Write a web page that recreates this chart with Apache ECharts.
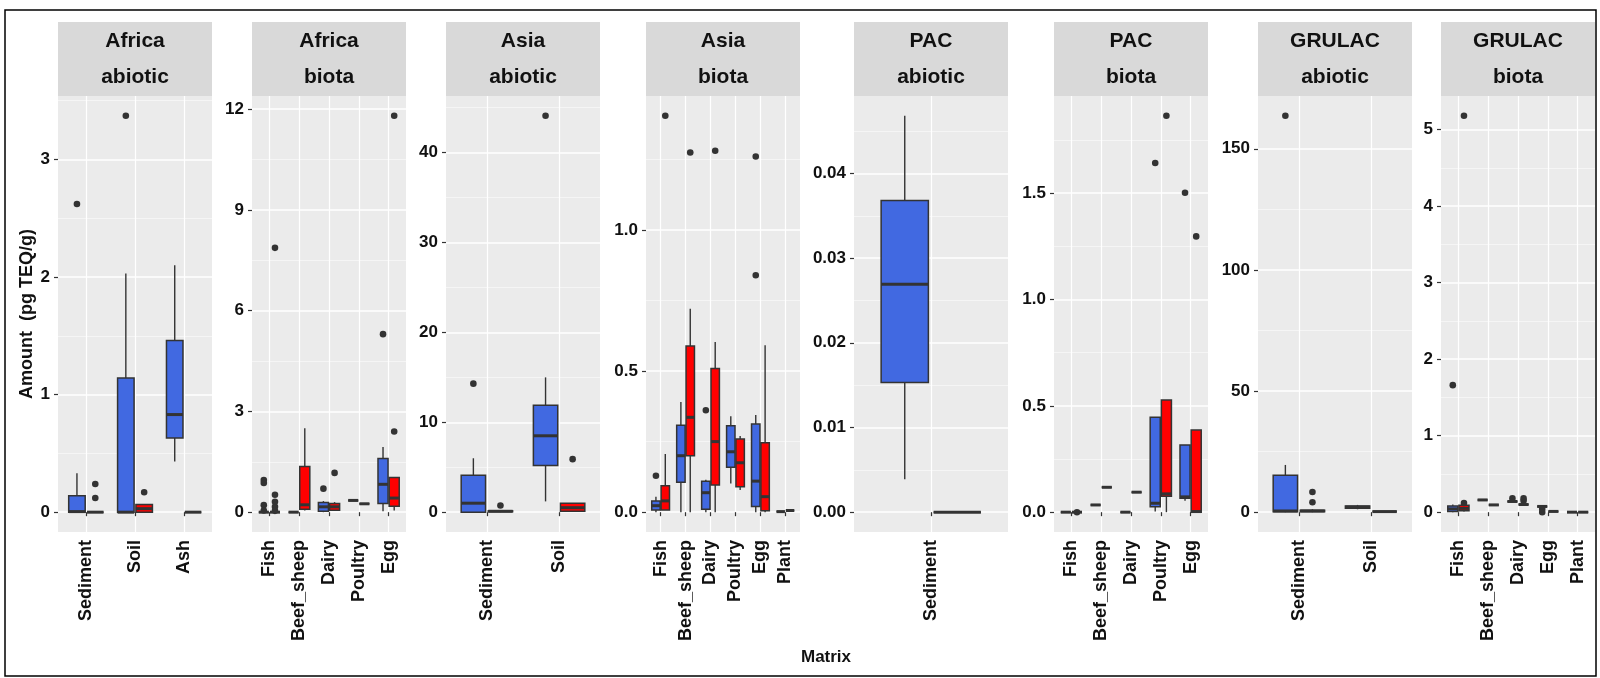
<!DOCTYPE html>
<html>
<head>
<meta charset="utf-8">
<script src="https://cdn.jsdelivr.net/npm/echarts@6/dist/echarts.min.js"></script>
<style>
html,body{margin:0;padding:0;background:#fff;}
#chart{width:1600px;height:678px;}
</style>
</head>
<body>
<div id="chart"></div>
<script>
// ---------- DATA (box stats: [lower whisker, Q1, median, Q3, upper whisker]) ----------
// Africa / abiotic
const afAbCats = ['Sediment', 'Soil', 'Ash'];
const afAbBlue = [[0, 0, 0.005, 0.14, 0.33], [0, 0, 0, 1.14, 2.03], [0.43, 0.63, 0.83, 1.46, 2.10]];
const afAbRed = [[0, 0, 0, 0, 0], [0, 0, 0.03, 0.065, 0.065], [0, 0, 0, 0, 0]];
const afAbBlueOut = [['Sediment', 2.62], ['Soil', 3.37]];
const afAbRedOut = [['Sediment', 0.12], ['Sediment', 0.24], ['Soil', 0.17]];
const afAbTicks = ['0', '1', '2', '3'];

// Africa / biota
const afBiCats = ['Fish', 'Beef_sheep', 'Dairy', 'Poultry', 'Egg'];
const afBiBlue = [[0, 0, 0, 0, 0], [0, 0, 0, 0, 0], [0, 0.03, 0.16, 0.29, 0.33], [0.35, 0.35, 0.35, 0.35, 0.35], [0.03, 0.26, 0.83, 1.6, 1.94]];
const afBiRed = [[0, 0, 0, 0, 0], [0.05, 0.09, 0.22, 1.36, 2.5], [0.04, 0.06, 0.16, 0.26, 0.3], [0.25, 0.25, 0.25, 0.25, 0.25], [0.05, 0.18, 0.42, 1.03, 1.03]];
const afBiBlueOut = [['Fish', 0.96], ['Fish', 0.87], ['Fish', 0.21], ['Fish', 0.05], ['Dairy', 0.70], ['Egg', 5.3]];
const afBiRedOut = [['Fish', 7.87], ['Fish', 0.52], ['Fish', 0.31], ['Fish', 0.16], ['Fish', 0.04], ['Dairy', 1.17], ['Egg', 2.4], ['Egg', 11.8]];
const afBiTicks = ['0', '3', '6', '9', '12'];

// Asia / abiotic
const asAbCats = ['Sediment', 'Soil'];
const asAbBlue = [[0, 0, 1.0, 4.1, 6.0], [1.2, 5.2, 8.5, 11.9, 15.0]];
const asAbRed = [[0, 0.05, 0.1, 0.15, 0.2], [0.1, 0.1, 0.5, 1.0, 1.0]];
const asAbBlueOut = [['Sediment', 14.3], ['Soil', 44.1]];
const asAbRedOut = [['Sediment', 0.75], ['Soil', 5.9]];
const asAbTicks = ['0', '10', '20', '30', '40'];

// Asia / biota
const asBiCats = ['Fish', 'Beef_sheep', 'Dairy', 'Poultry', 'Egg', 'Plant'];
const asBiBlue = [[0, 0.008, 0.023, 0.04, 0.055], [0, 0.106, 0.2, 0.308, 0.39], [0, 0.01, 0.069, 0.11, 0.115], [0.102, 0.159, 0.214, 0.306, 0.34], [0, 0.02, 0.11, 0.312, 0.344], [0.002, 0.002, 0.002, 0.002, 0.002]];
const asBiRed = [[0.008, 0.008, 0.04, 0.094, 0.206], [0, 0.2, 0.336, 0.589, 0.721], [0, 0.096, 0.25, 0.509, 0.603], [0.079, 0.09, 0.175, 0.259, 0.27], [0, 0.005, 0.055, 0.246, 0.591], [0.006, 0.006, 0.006, 0.006, 0.006]];
const asBiBlueOut = [['Fish', 0.129], ['Dairy', 0.361], ['Egg', 0.839], ['Egg', 1.26]];
const asBiRedOut = [['Fish', 1.404], ['Beef_sheep', 1.274], ['Dairy', 1.28]];
const asBiTicks = ['0.0', '0.5', '1.0'];

// PAC / abiotic
const pacAbCats = ['Sediment'];
const pacAbBlue = [[0.0039, 0.0153, 0.0269, 0.0368, 0.0468]];
const pacAbRed = [[0, 0, 0, 0, 0]];
const pacAbBlueOut = [];
const pacAbRedOut = [];
const pacAbTicks = ['0.00', '0.01', '0.02', '0.03', '0.04'];

// PAC / biota
const pacBiCats = ['Fish', 'Beef_sheep', 'Dairy', 'Poultry', 'Egg'];
const pacBiBlue = [[0, 0, 0, 0, 0], [0.034, 0.034, 0.034, 0.034, 0.034], [0, 0, 0, 0, 0], [0.003, 0.026, 0.042, 0.446, 0.446], [0.054, 0.066, 0.072, 0.316, 0.316]];
const pacBiRed = [[0, 0, 0, 0, 0], [0.117, 0.117, 0.117, 0.117, 0.117], [0.094, 0.094, 0.094, 0.094, 0.094], [0, 0.075, 0.086, 0.527, 0.527], [0, 0, 0.003, 0.386, 0.386]];
const pacBiBlueOut = [['Poultry', 1.642], ['Egg', 1.502]];
const pacBiRedOut = [['Fish', 0.0], ['Poultry', 1.864], ['Egg', 1.297]];
const pacBiTicks = ['0.0', '0.5', '1.0', '1.5'];

// GRULAC / abiotic
const grAbCats = ['Sediment', 'Soil'];
const grAbBlue = [[0, 0.2, 0.5, 15.2, 19.5], [1.2, 1.6, 2.1, 2.6, 3.0]];
const grAbRed = [[0, 0.2, 0.5, 0.8, 1.2], [0.25, 0.25, 0.25, 0.25, 0.25]];
const grAbBlueOut = [['Sediment', 163.6]];
const grAbRedOut = [['Sediment', 4.1], ['Sediment', 8.3]];
const grAbTicks = ['0', '50', '100', '150'];

// GRULAC / biota
const grBiCats = ['Fish', 'Beef_sheep', 'Dairy', 'Egg', 'Plant'];
const grBiBlue = [[0, 0.008, 0.043, 0.082, 0.1], [0.16, 0.16, 0.16, 0.16, 0.16], [0.14, 0.14, 0.14, 0.14, 0.14], [0.075, 0.075, 0.075, 0.075, 0.075], [0, 0, 0, 0, 0]];
const grBiRed = [[0.01, 0.02, 0.05, 0.09, 0.1], [0.095, 0.095, 0.095, 0.095, 0.095], [0.1, 0.1, 0.1, 0.1, 0.1], [0.01, 0.01, 0.01, 0.01, 0.01], [0, 0, 0, 0, 0]];
const grBiBlueOut = [['Fish', 1.66], ['Dairy', 0.18], ['Egg', 0.0], ['Egg', 0.04]];
const grBiRedOut = [['Fish', 5.18], ['Fish', 0.12], ['Dairy', 0.15], ['Dairy', 0.18]];
const grBiTicks = ['0', '1', '2', '3', '4', '5'];

const stripRegions = ['Africa', 'Africa', 'Asia', 'Asia', 'PAC', 'PAC', 'GRULAC', 'GRULAC'];
const stripTypes = ['abiotic', 'biota', 'abiotic', 'biota', 'abiotic', 'biota', 'abiotic', 'biota'];
const yTitle = 'Amount  (pg TEQ/g)';
const xTitle = 'Matrix';

// ---------- LAYOUT ----------
const panelLefts = [58, 252, 446, 646, 854, 1054, 1258, 1441];
const PANEL_W = 154, PANEL_TOP = 96, PANEL_H = 436, STRIP_TOP = 22, STRIP_H = 74;
const FONT = '"Liberation Sans", Arial, Helvetica, sans-serif';
const BLUE = '#4169E1', RED = '#FF0000', EDGE = '#333333';

const panels = [
  [afAbCats, afAbBlue, afAbRed, afAbBlueOut, afAbRedOut, afAbTicks],
  [afBiCats, afBiBlue, afBiRed, afBiBlueOut, afBiRedOut, afBiTicks],
  [asAbCats, asAbBlue, asAbRed, asAbBlueOut, asAbRedOut, asAbTicks],
  [asBiCats, asBiBlue, asBiRed, asBiBlueOut, asBiRedOut, asBiTicks],
  [pacAbCats, pacAbBlue, pacAbRed, pacAbBlueOut, pacAbRedOut, pacAbTicks],
  [pacBiCats, pacBiBlue, pacBiRed, pacBiBlueOut, pacBiRedOut, pacBiTicks],
  [grAbCats, grAbBlue, grAbRed, grAbBlueOut, grAbRedOut, grAbTicks],
  [grBiCats, grBiBlue, grBiRed, grBiBlueOut, grBiRedOut, grBiTicks]
];

function boxRenderer(sign, color) {
  return function (params, api) {
    const cat = api.value(0);
    const band = api.size([1, 0])[0];
    const base = api.coord([cat, api.value(3)]);
    const cx = base[0] + sign * 0.1875 * band;
    const w = 0.3375 * band;
    const yLo = api.coord([cat, api.value(1)])[1];
    const yQ1 = api.coord([cat, api.value(2)])[1];
    const yMed = base[1];
    const yQ3 = api.coord([cat, api.value(4)])[1];
    const yHi = api.coord([cat, api.value(5)])[1];
    const ls = { stroke: EDGE, lineWidth: 1.4 };
    return {
      type: 'group',
      children: [
        { type: 'line', shape: { x1: cx, y1: yHi, x2: cx, y2: yQ3 }, style: ls },
        { type: 'line', shape: { x1: cx, y1: yQ1, x2: cx, y2: yLo }, style: ls },
        { type: 'rect', shape: { x: cx - w / 2, y: yQ3, width: w, height: yQ1 - yQ3 }, style: { fill: color, stroke: EDGE, lineWidth: 1.5 } },
        { type: 'line', shape: { x1: cx - w / 2, y1: yMed, x2: cx + w / 2, y2: yMed }, style: { stroke: EDGE, lineWidth: 3 } }
      ]
    };
  };
}
function outRenderer(sign) {
  return function (params, api) {
    const cat = api.value(0);
    const band = api.size([1, 0])[0];
    const p = api.coord([cat, api.value(1)]);
    return { type: 'circle', shape: { cx: p[0] + sign * 0.1875 * band, cy: p[1], r: 3.3 }, style: { fill: EDGE } };
  };
}

const grids = [], xAxes = [], yAxes = [], series = [], graphics = [];

panels.forEach((pn, p) => {
  const [cats, blue, red, blueOut, redOut, ticks] = pn;
  const n = cats.length;
  const L = panelLefts[p];
  const unit = PANEL_W / (n + 1.2);
  const tickVals = ticks.map(Number);
  const iv = tickVals[1] - tickVals[0];
  const all = [].concat(...blue, ...red, ...blueOut.map(d => d[1]), ...redOut.map(d => d[1]));
  const dmin = Math.min(...all), dmax = Math.max(...all);
  const pad = 0.05 * (dmax - dmin);
  const ymin = dmin - pad, ymax = dmax + pad;

  grids.push({ left: L, top: PANEL_TOP, width: PANEL_W, height: PANEL_H, show: true, backgroundColor: '#EBEBEB', borderWidth: 0 });
  grids.push({ left: L + 0.1 * unit, top: PANEL_TOP, width: PANEL_W - 0.2 * unit, height: PANEL_H, show: false });

  xAxes.push({ gridIndex: 2 * p, type: 'value', min: 0, max: 1, show: false });
  xAxes.push({
    gridIndex: 2 * p + 1, type: 'category', data: cats, boundaryGap: true,
    axisLine: { show: false },
    axisTick: { show: true, alignWithLabel: true, length: 4, lineStyle: { color: EDGE, width: 1.2 } },
    axisLabel: { rotate: 90, interval: 0, hideOverlap: false, fontSize: 18, fontWeight: 'bold', color: '#111', margin: 8, fontFamily: FONT },
    splitLine: { show: true, alignWithLabel: true, interval: 0, lineStyle: { color: '#FFFFFF', width: 1.2 } }
  });

  const yBg = {
    gridIndex: 2 * p, type: 'value', min: ymin, max: ymax, minInterval: iv, maxInterval: iv,
    axisLine: { show: false },
    axisTick: { show: true, length: 4, customValues: tickVals, lineStyle: { color: EDGE, width: 1.2 } },
    axisLabel: {
      customValues: tickVals, showMinLabel: true, showMaxLabel: true,
      fontSize: 17, fontWeight: 'bold', color: '#111', margin: 8, fontFamily: FONT,
      formatter: v => { const i = tickVals.findIndex(t => Math.abs(t - v) < iv * 1e-6); return i >= 0 ? ticks[i] : ''; }
    },
    splitLine: { show: true, lineStyle: { color: '#FFFFFF', width: 1.5 } },
    minorTick: { show: false, splitNumber: 2 },
    minorSplitLine: { show: true, lineStyle: { color: '#F7F7F7', width: 0.8 } }
  };
  if (p === 0) {
    Object.assign(yBg, {
      name: yTitle, nameLocation: 'middle', nameRotate: 90, nameGap: 22,
      nameTextStyle: { fontSize: 18, fontWeight: 'bold', color: '#111', fontFamily: FONT }
    });
  }
  yAxes.push(yBg);
  yAxes.push({ gridIndex: 2 * p + 1, type: 'value', min: ymin, max: ymax, show: false });

  const xi = 2 * p + 1;
  const toIdx = d => [cats.indexOf(d[0]), d[1]];
  series.push({ type: 'custom', xAxisIndex: xi, yAxisIndex: xi, renderItem: boxRenderer(-1, BLUE), data: blue.map((s, i) => [i, ...s]), encode: { x: 0, y: [1, 2, 3, 4, 5] }, z: 2 });
  series.push({ type: 'custom', xAxisIndex: xi, yAxisIndex: xi, renderItem: boxRenderer(1, RED), data: red.map((s, i) => [i, ...s]), encode: { x: 0, y: [1, 2, 3, 4, 5] }, z: 2 });
  series.push({ type: 'custom', xAxisIndex: xi, yAxisIndex: xi, renderItem: outRenderer(-1), data: blueOut.map(toIdx), encode: { x: 0, y: 1 }, z: 3 });
  series.push({ type: 'custom', xAxisIndex: xi, yAxisIndex: xi, renderItem: outRenderer(1), data: redOut.map(toIdx), encode: { x: 0, y: 1 }, z: 3 });

  graphics.push({ type: 'rect', shape: { x: L, y: STRIP_TOP, width: PANEL_W, height: STRIP_H }, style: { fill: '#D9D9D9' }, silent: true });
  graphics.push({
    type: 'text', x: L + PANEL_W / 2, y: STRIP_TOP + STRIP_H / 2,
    style: { text: stripRegions[p] + '\n' + stripTypes[p], textAlign: 'center', textVerticalAlign: 'middle', lineHeight: 36, font: 'bold 21px ' + FONT, fill: '#111' }
  });
});

graphics.push({ type: 'text', x: 826, y: 657, style: { text: xTitle, textAlign: 'center', textVerticalAlign: 'middle', font: 'bold 17px ' + FONT, fill: '#111' } });
graphics.push({ type: 'rect', shape: { x: 5, y: 10, width: 1591, height: 666 }, style: { fill: 'none', stroke: '#000', lineWidth: 1.5 }, silent: true, z: 100 });

const chart = echarts.init(document.getElementById('chart'), null, { renderer: 'canvas' });
chart.setOption({
  animation: false,
  backgroundColor: '#FFFFFF',
  grid: grids,
  xAxis: xAxes,
  yAxis: yAxes,
  series: series,
  graphic: graphics
});
</script>
</body>
</html>
